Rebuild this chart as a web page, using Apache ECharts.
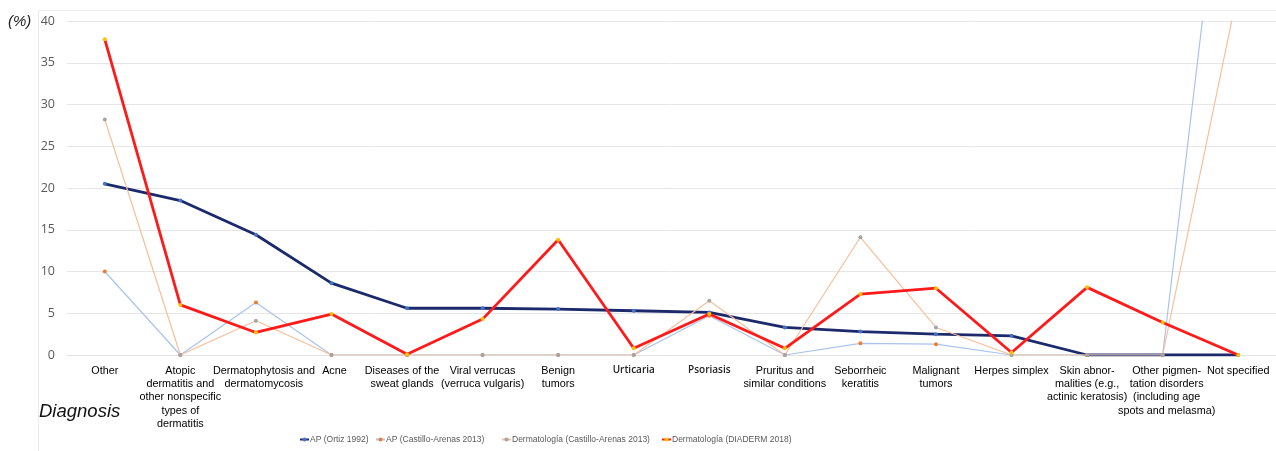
<!DOCTYPE html>
<html>
<head>
<meta charset="utf-8">
<script src="https://cdn.jsdelivr.net/npm/echarts@6/dist/echarts.min.js"></script>
<style>
html,body{margin:0;padding:0;background:#fff;}
#c{width:1276px;height:451px;}
</style>
</head>
<body>
<div id="c"></div>
<script>
const categories = [
  "Other",
  "Atopic\ndermatitis and\nother nonspecific\ntypes of\ndermatitis",
  "Dermatophytosis and\ndermatomycosis",
  "Acne",
  "Diseases of the\nsweat glands",
  "Viral verrucas\n(verruca vulgaris)",
  "Benign\ntumors",
  "Urticaria",
  "Psoriasis",
  "Pruritus and\nsimilar conditions",
  "Seborrheic\nkeratitis",
  "Malignant\ntumors",
  "Herpes simplex",
  "Skin abnor-\nmalities (e.g.,\nactinic keratosis)",
  "Other pigmen-\ntation disorders\n(including age\nspots and melasma)",
  "Not specified"
];
const seriesNames = [
  "AP (Ortiz 1992)",
  "AP (Castillo-Arenas 2013)",
  "Dermatología (Castillo-Arenas 2013)",
  "Dermatología (DIADERM 2018)"
];
const apOrtiz1992 = [20.5, 18.5, 14.4, 8.6, 5.6, 5.6, 5.5, 5.3, 5.1, 3.3, 2.8, 2.5, 2.3, 0, 0, 0];
const apCastillo2013 = [10.0, 0, 6.3, 0, 0, 0, 0, 0, 4.7, 0, 1.4, 1.3, 0, 0, 0, 76.2];
const dermCastillo2013 = [28.2, 0, 4.1, 0, 0, 0, 0, 0, 6.5, 0, 14.1, 3.3, 0, 0, 0, 43.8];
const dermDiaderm2018 = [37.8, 6.0, 2.7, 4.9, 0.1, 4.3, 13.8, 0.8, 4.9, 0.8, 7.3, 8.0, 0.3, 8.1, 3.9, 0];
const yTicks = { min: 0, max: 40, interval: 5 };

const chart = echarts.init(document.getElementById('c'), null, {renderer: 'canvas'});

function lineSeries(name, data, lineColor, markerColor, width, z) {
  return {
    name: name,
    type: 'line',
    data: data,
    symbol: 'circle',
    symbolSize: 4,
    showSymbol: true,
    clip: true,
    z: z,
    lineStyle: {color: lineColor, width: width},
    itemStyle: {color: markerColor, borderWidth: 0},
    emphasis: {disabled: true}
  };
}

const smallCats = {"Urticaria": true, "Psoriasis": true};
const shiftedCats = {
  "Dermatophytosis and\ndermatomycosis": 'd',
  "Acne": 'a',
  "Diseases of the\nsweat glands": 'l',
  "Other pigmen-\ntation disorders\n(including age\nspots and melasma)": 'r'
};

function legendAt(name, left) {
  return {
    data: [name],
    left: left,
    top: 435,
    padding: 0,
    itemWidth: 9,
    itemHeight: 5,
    textStyle: {color: '#595959', fontSize: 8.5, fontFamily: 'Liberation Sans, Arial, sans-serif', padding: [0,0,0,-4]}
  };
}

const base = {fontSize: 10.8, fontFamily: 'Liberation Sans, Arial, sans-serif', color: '#000', lineHeight: 13.3};

chart.setOption({
  animation: false,
  backgroundColor: '#ffffff',
  grid: {left: 67, right: -2, top: 21, bottom: 96, containLabel: false},
  xAxis: {
    type: 'category',
    data: categories,
    boundaryGap: true,
    axisLine: {show: true, lineStyle: {color: '#e3e3e3', width: 1}},
    axisTick: {show: false},
    axisLabel: {
      interval: 0,
      margin: 9,
      color: '#000',
      fontFamily: 'Liberation Sans, Arial, sans-serif',
      fontSize: 10.8,
      lineHeight: 13.3,
      formatter: function (v) {
        if (smallCats[v]) return '{s|' + v + '}';
        if (shiftedCats[v]) { const k = shiftedCats[v]; return v.split('\n').map(function (l) { return '{' + k + '|' + l + '}'; }).join('\n'); }
        return v;
      },
      rich: {
        s: {fontSize: 10, fontFamily: 'Open Sans, sans-serif', fontWeight: 600, color: '#222', lineHeight: 13.3},
        d: Object.assign({}, base, {padding: [0, 0, 0, 16]}),
        a: Object.assign({}, base, {padding: [0, 0, 0, 6]}),
        l: Object.assign({}, base, {padding: [0, 10, 0, 0]}),
        r: Object.assign({}, base, {padding: [0, 0, 0, 8]})
      }
    }
  },
  yAxis: {
    type: 'value',
    min: yTicks.min,
    max: yTicks.max,
    interval: yTicks.interval,
    axisLine: {show: false},
    axisTick: {show: false},
    splitLine: {lineStyle: {color: '#e6e6e6', width: 1}},
    axisLabel: {color: '#595959', fontSize: 12.5, margin: 12, fontFamily: 'Open Sans, sans-serif'}
  },
  legend: [
    legendAt(seriesNames[0], 299),
    legendAt(seriesNames[1], 375),
    legendAt(seriesNames[2], 501),
    legendAt(seriesNames[3], 661)
  ],
  graphic: [
    {type: 'rect', shape: {x: 38.5, y: 10.5, width: 1300, height: 500}, style: {fill: 'none', stroke: '#ececec', lineWidth: 1}, z: -1, silent: true},
    {type: 'text', left: 8, top: 14, style: {text: '(%)', font: 'italic 15px Liberation Sans, Arial, sans-serif', fill: '#222'}},
    {type: 'text', left: 39, top: 402, style: {text: 'Diagnosis', font: 'italic 18.5px Liberation Sans, Arial, sans-serif', fill: '#111'}}
  ],
  series: [
    lineSeries(seriesNames[0], apOrtiz1992, '#1c2a6b', '#4472c4', 2.8, 2),
    lineSeries(seriesNames[1], apCastillo2013, '#a9c3ea', '#ed7d31', 1.2, 3),
    lineSeries(seriesNames[2], dermCastillo2013, '#f6bf9a', '#a5a5a5', 1.2, 4),
    lineSeries(seriesNames[3], dermDiaderm2018, '#ff1a1a', '#ffc000', 2.8, 5)
  ]
});
</script>
</body>
</html>
